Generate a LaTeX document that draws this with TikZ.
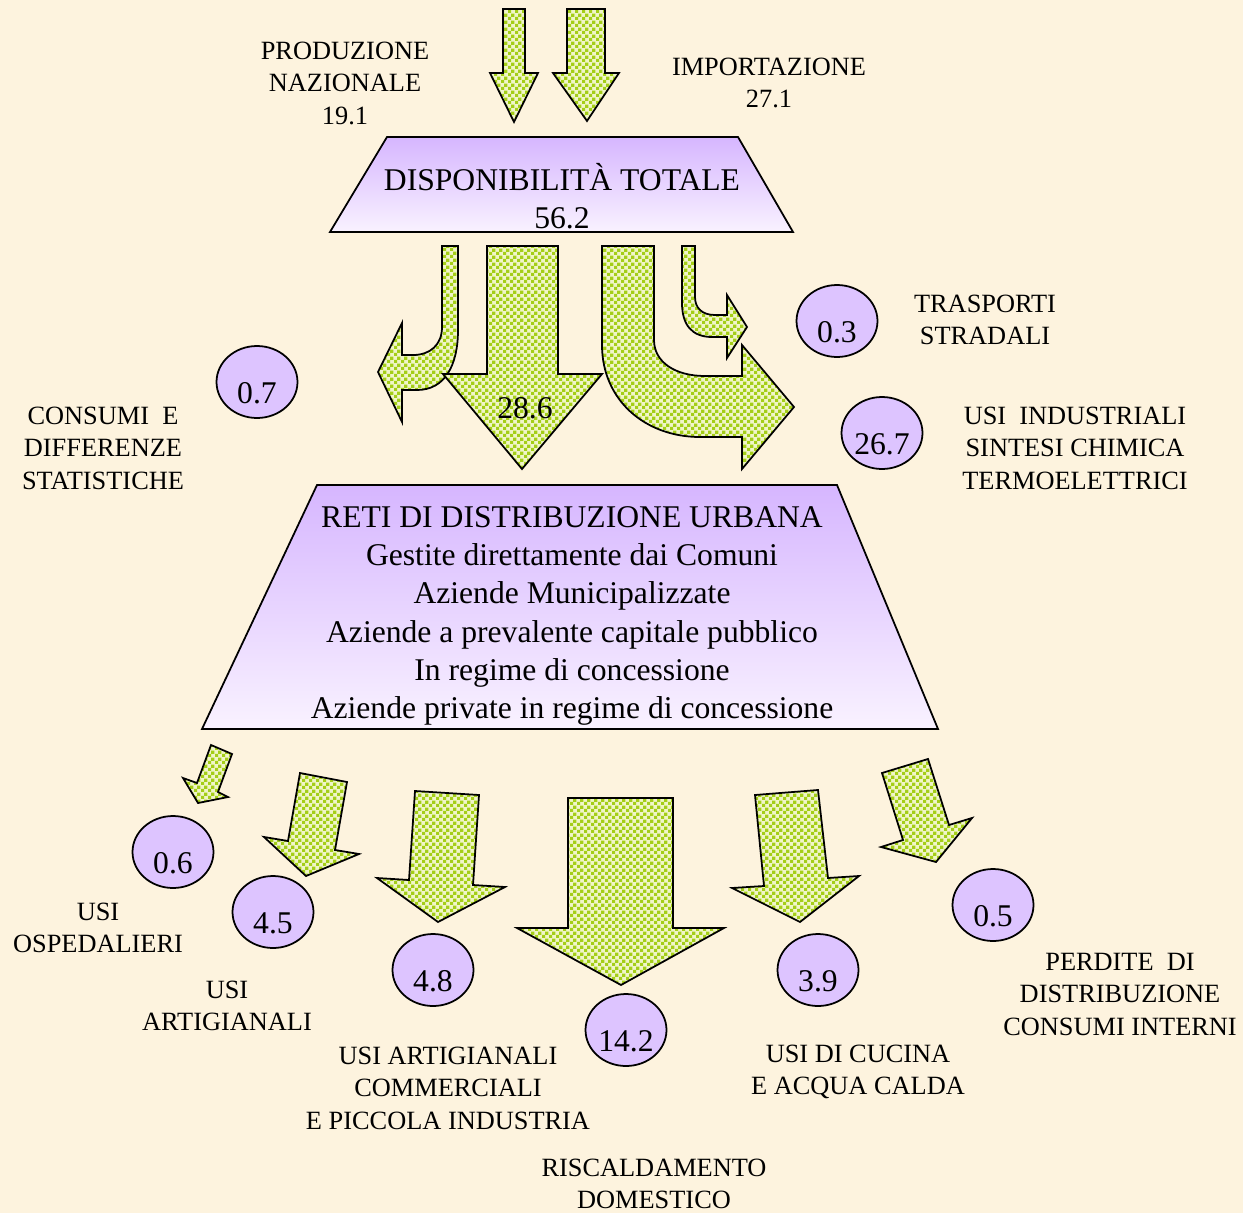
\documentclass[tikz,border=0pt]{standalone}
\usepackage{fontspec}
\setmainfont{Liberation Serif}
\usetikzlibrary{shapes.geometric,patterns}

\definecolor{paper}{RGB}{253,243,222}
\definecolor{leaf}{RGB}{164,206,24}
\definecolor{leaflight}{RGB}{240,245,200}
\definecolor{lilac}{RGB}{221,196,255}
\definecolor{lilactop}{RGB}{214,182,255}
\definecolor{lilacbot}{RGB}{249,242,255}

% small checks, like the original fill
\pgfdeclarepatternformonly{finecheck}{\pgfpointorigin}{\pgfqpoint{3.8pt}{3.8pt}}{\pgfqpoint{3.8pt}{3.8pt}}{
    \pgfpathrectangle{\pgfpointorigin}{\pgfqpoint{1.9pt}{1.9pt}}
    \pgfpathrectangle{\pgfqpoint{1.9pt}{1.9pt}}{\pgfqpoint{1.9pt}{1.9pt}}
    \pgfusepath{fill}
}

\begin{document}
\begin{tikzpicture}[
        x=0.02cm, y=-0.02cm,
        flow/.style={
                draw, line width=1pt,
                preaction={fill=leaflight},
                pattern=finecheck, pattern color=leaf
            },
        hub/.style={draw, line width=1pt, top color=lilactop, bottom color=lilacbot},
        amount/.style={
                draw, line width=1pt, ellipse, fill=lilac,
                minimum width=1.62cm, minimum height=1.44cm,
                inner sep=0pt, text height=24pt, text depth=0pt,
                font=\fontsize{18}{21}\selectfont
            },
        caption/.style={align=center, font=\fontsize{15}{18.5}\selectfont},
        hubtext/.style={align=center, font=\fontsize{18}{21.8}\selectfont}
    ]

    \useasboundingbox (0,0) rectangle (1243,1213);
    \fill[paper] (0,0) rectangle (1243,1213);

    % Inputs
    \draw[flow] (503,9) -- (525,9) -- (525,73) -- (538,73) -- (514,122) -- (490,73) -- (503,73) -- cycle;
    \draw[flow] (567,9) -- (605,9) -- (605,73) -- (619,73) -- (587,121) -- (553,73) -- (567,73) -- cycle;
    \node[caption] (prod) at (345,83) {PRODUZIONE\\NAZIONALE\\19.1};
    \node[caption] (imp) at (769,83) {IMPORTAZIONE\\27.1};

    % Total
    \draw[hub] (387,137) -- (738,137) -- (793,232) -- (330,232) -- cycle;
    \node[hubtext] (dispo) at (562,196) {DISPONIBILITÀ TOTALE\\56.2};

    % First split
    \draw[flow] (442,246) -- (442,327) .. controls (442,345) and (430,355) .. (413,355)
        -- (402,355) -- (402,323) -- (378,372) -- (402,422) -- (402,390) -- (417,390)
        .. controls (445,390) and (458,365) .. (458,330) -- (458,246) -- cycle;
    \draw[flow] (487,246) -- (558,246) -- (558,374) -- (602,374) -- (522,469) -- (443,374) -- (487,374) -- cycle;
    \draw[flow] (602,246) -- (602,345) .. controls (602,400) and (645,437) .. (700,437)
        -- (742,437) -- (742,469) -- (794,407) -- (742,345) -- (742,376) -- (705,376)
        .. controls (675,376) and (654,362) .. (654,340) -- (654,246) -- cycle;
    \draw[flow] (682,246) -- (682,303) .. controls (682,325) and (692,337) .. (712,337)
        -- (727,337) -- (727,358) -- (747,327) -- (727,295) -- (727,315) -- (715,315)
        .. controls (702,315) and (695,308) .. (695,297) -- (695,246) -- cycle;
    \node[font=\fontsize{18}{21}\selectfont] (n286) at (525,408) {28.6};

    \node[amount] (v07) at (257,382) {0.7};
    \node[amount] (v03) at (837,321) {0.3};
    \node[amount] (v267) at (882,433) {26.7};
    \node[caption] (cons) at (103,448) {CONSUMI~~E\\DIFFERENZE\\STATISTICHE};
    \node[caption] (trasp) at (985,320) {TRASPORTI\\STRADALI};
    \node[caption] (indus) at (1075,448) {USI~~INDUSTRIALI\\SINTESI CHIMICA\\TERMOELETTRICI};

    % Urban networks
    \draw[hub] (317,485) -- (837,485) -- (938,729) -- (202,729) -- cycle;
    \node[hubtext] (reti) at (572,616) {RETI DI DISTRIBUZIONE URBANA\\Gestite direttamente dai Comuni\\
        Aziende Municipalizzate\\Aziende a prevalente capitale pubblico\\
        In regime di concessione\\Aziende private in regime di concessione};

    % Final uses
    \draw[flow] (211,745) -- (232,754) -- (218,792) -- (228,797) -- (198,803) -- (183,778) -- (197,783) -- cycle;
    \draw[flow] (300,773) -- (347,782) -- (335,850) -- (359,854) -- (306,876) -- (264,837) -- (288,841) -- cycle;
    \draw[flow] (415,791) -- (479,795) -- (473,885) -- (505,887) -- (438,922) -- (377,878) -- (409,880) -- cycle;
    \draw[flow] (568,798) -- (673,798) -- (673,928) -- (724,928) -- (621,985) -- (517,928) -- (568,928) -- cycle;
    \draw[flow] (755,795) -- (818,790) -- (828,878) -- (859,876) -- (800,922) -- (732,888) -- (764,886) -- cycle;
    \draw[flow] (882,773) -- (928,759) -- (949,825) -- (972,818) -- (936,862) -- (881,847) -- (903,840) -- cycle;

    \node[amount] (v06) at (173,852) {0.6};
    \node[amount] (v45) at (273,912) {4.5};
    \node[amount] (v48) at (433,970) {4.8};
    \node[amount] (v142) at (626,1030) {14.2};
    \node[amount] (v39) at (818,970) {3.9};
    \node[amount] (v05) at (993,905) {0.5};

    \node[caption] (osp) at (98,928) {USI\\OSPEDALIERI};
    \node[caption] (artig) at (227,1006) {USI\\ARTIGIANALI};
    \node[caption] (comm) at (448,1088) {USI ARTIGIANALI\\COMMERCIALI\\E PICCOLA INDUSTRIA};
    \node[caption] (risc) at (654,1184) {RISCALDAMENTO\\DOMESTICO};
    \node[caption] (cuc) at (858,1072) {USI DI CUCINA\\E ACQUA CALDA};
    \node[caption] (perd) at (1120,994) {PERDITE~~DI\\DISTRIBUZIONE\\CONSUMI INTERNI};

\end{tikzpicture}
\end{document}
